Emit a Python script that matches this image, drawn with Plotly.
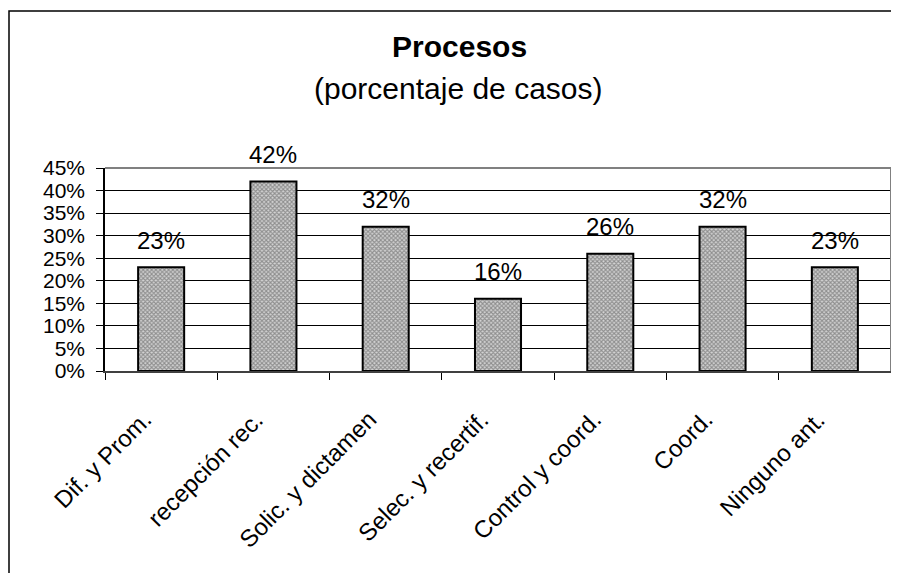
import plotly.graph_objects as go

categories = ["Dif. y Prom.", "recepción rec.", "Solic. y dictamen", "Selec. y recertif.",
              "Control y coord.", "Coord.", "Ninguno ant."]
values = [0.23, 0.42, 0.32, 0.16, 0.26, 0.32, 0.23]
tick_vals = [0, 0.05, 0.10, 0.15, 0.20, 0.25, 0.30, 0.35, 0.40, 0.45]
tick_text = ["0%", "5%", "10%", "15%", "20%", "25%", "30%", "35%", "40%", "45%"]

FONT = "Liberation Sans, Arial, sans-serif"

# figure geometry (page has an 8px body offset)
W, H = 891, 565
L, T, R, B = 97, 160, 8, 202
PW, PH = W - L - R, H - T - B

def px_x(x):
    return (x - L) / PW

def px_y(y):
    return (H - B - y) / PH

fig = go.Figure()
fig.add_trace(go.Bar(
    x=categories, y=values, width=0.41,
    marker=dict(color="#a0a0a0",
                line=dict(color="black", width=2),
                pattern=dict(shape="x", size=3, solidity=0.6,
                             fgcolor="#4a4a4a", bgcolor="#d4d4d4")),
    hoverinfo="skip",
))

# value labels above bars
annotations = [
    dict(x=c, y=v, text=f"{round(v*100)}%", showarrow=False, yshift=27,
         yanchor="middle", xanchor="center", font=dict(size=24, color="black", family=FONT))
    for c, v in zip(categories, values)
]
# rotated category labels
annotations += [
    dict(x=c, y=0, xref="x", yref="y", text=c, textangle=-45, showarrow=False,
         xanchor="right", yanchor="top", xshift=-2, yshift=-32,
         font=dict(size=24, color="black", family=FONT))
    for c in categories
]
annotations += [
    dict(x=px_x(451), y=px_y(39), xref="paper", yref="paper", text="<b>Procesos</b>",
         showarrow=False, xanchor="center", yanchor="middle",
         font=dict(size=30, color="black", family=FONT)),
    dict(x=px_x(450), y=px_y(80), xref="paper", yref="paper", text="(porcentaje de casos)",
         showarrow=False, xanchor="center", yanchor="middle",
         font=dict(size=30, color="black", family=FONT)),
]

shapes = [
    dict(type="rect", xref="paper", yref="paper",
         x0=px_x(1), x1=px_x(W + 20), y0=px_y(H + 20), y1=px_y(3),
         line=dict(color="black", width=1.5), layer="below"),
    dict(type="line", xref="paper", yref="paper", x0=0, x1=1, y0=1, y1=1,
         line=dict(color="#808080", width=2), layer="above"),
    dict(type="line", xref="paper", yref="paper", x0=1, x1=1, y0=0, y1=1,
         line=dict(color="#808080", width=2), layer="above"),
]

fig.update_layout(
    width=W, height=H,
    margin=dict(l=L, r=R, t=T, b=B, autoexpand=False),
    paper_bgcolor="white", plot_bgcolor="white",
    showlegend=False,
    font=dict(family=FONT, size=22, color="black"),
    annotations=annotations,
    shapes=shapes,
)
fig.update_xaxes(
    range=[-0.5, len(categories) - 0.5],
    tickson="boundaries", ticks="outside", ticklen=7, tickcolor="black",
    showticklabels=False,
    showline=True, linecolor="#404040", linewidth=1.5, showgrid=False,
    fixedrange=True,
)
fig.update_yaxes(
    range=[0, 0.45], tickvals=tick_vals, ticktext=tick_text,
    ticks="outside", ticklen=7, tickcolor="black", ticklabelstandoff=7,
    showline=True, linecolor="black", linewidth=1.5,
    showgrid=True, gridcolor="black", gridwidth=1, zeroline=False,
    tickfont=dict(size=21, family=FONT, color="black"), fixedrange=True,
)

fig.write_html("out.html")
